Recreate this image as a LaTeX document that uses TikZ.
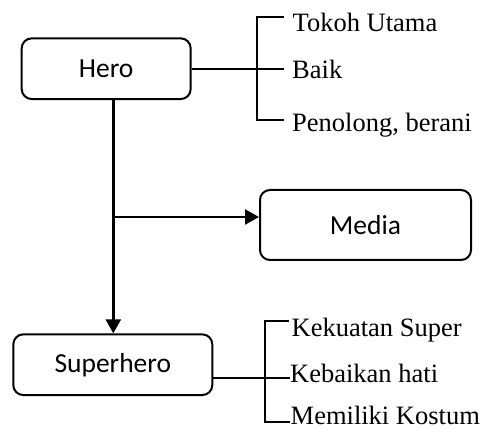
\documentclass[tikz,border=0pt]{standalone}
\usepackage{fontspec}
\setmainfont{Liberation Serif}
\newfontfamily\boxfont{Carlito}
\usetikzlibrary{arrows.meta}
\begin{document}
\begin{tikzpicture}[x=1pt,y=-1pt,
  box/.style={draw,line width=2pt,rounded corners=10pt,inner sep=0pt,font=\boxfont\fontsize{27.5}{30}\selectfont},
  item/.style={anchor=base west,inner sep=0pt,font=\fontsize{26.5}{30}\selectfont},
  arr/.style={line width=2.6pt,-{Triangle[length=14pt,width=15pt]}},
  brk/.style={line width=2pt}]
\useasboundingbox (0,0) rectangle (483,430);
% boxes
\node[box,minimum width=169pt,minimum height=60.7pt] (hero) at (106.2,68.7) {Hero};
\node[box,minimum width=211pt,minimum height=70pt] (media) at (365.5,225) {Media};
\node[box,minimum width=199pt,minimum height=60.7pt] (super) at (112.8,364.7) {Superhero};
% main arrows
\coordinate (j) at (113.3,217);
\draw[arr] (hero.south -| j) -- (super.north -| j);
\draw[arr] (j) -- (j -| media.west);
% hero items
\node[item] (t1) at (292.5,32) {Tokoh Utama};
\node[item] (t2) at (292,79) {Baik};
\node[item] (t3) at (292,132) {Penolong, berani};
\coordinate (ha) at (257.3,17.5);
\coordinate (hb) at (257.3,120);
\coordinate (hte) at (284,17.5);
\coordinate (hbe) at (284,120);
\coordinate (hm) at (284,68.7);
\draw[brk] (hero.east) -- (hm);
\draw[brk] (hte) -- (ha) -- (hb) -- (hbe);
% superhero items
\node[item] (k1) at (291.5,337) {Kekuatan Super};
\node[item] (k2) at (290,383) {Kebaikan hati};
\node[item] (k3) at (290.5,425) {Memiliki Kostum};
\coordinate (sa) at (265,321.5);
\coordinate (sb) at (265,422);
\coordinate (ste) at (288.5,321.5);
\coordinate (sbe) at (289.5,422);
\coordinate (sm) at (289.5,378);
\draw[brk] (super.east |- sm) -- (sm);
\draw[brk] (ste) -- (sa) -- (sb) -- (sbe);
\end{tikzpicture}
\end{document}
